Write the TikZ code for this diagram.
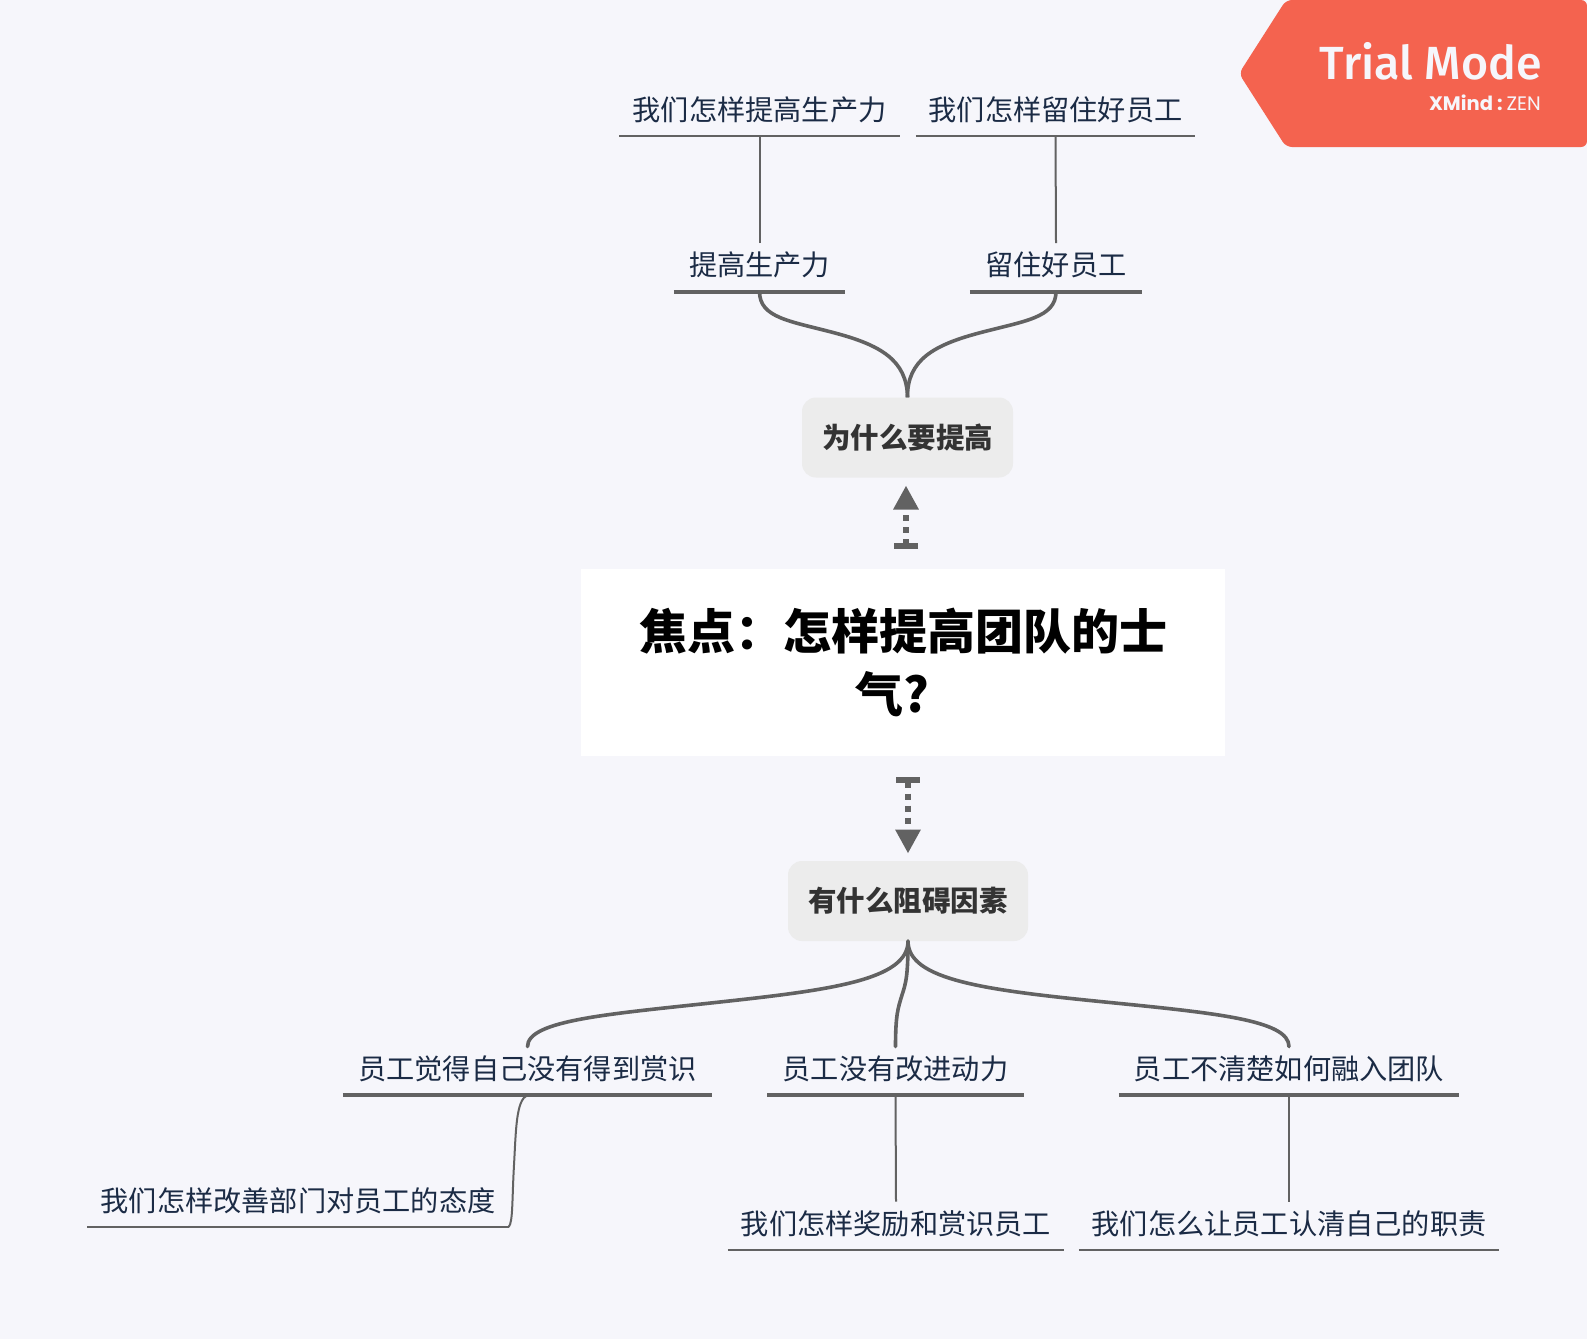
\documentclass[tikz,border=0pt]{standalone}
\usepackage{fontspec}
\usepackage{xcolor}
\usetikzlibrary{arrows.meta}
\setmainfont{Noto Sans CJK SC}
\newfontfamily\badgefont{Fira Sans}[BoldFont = {Fira Sans Medium}]
\newfontfamily\brandfont{Poppins}
\definecolor{bgcol}{HTML}{F6F6FB}
\definecolor{badgecol}{HTML}{F4634F}
\definecolor{boxcol}{HTML}{ECECEC}
\definecolor{linecol}{HTML}{626262}
\definecolor{textcol}{HTML}{1B2B45}
\tikzset{
	topicnode/.style = {inner sep = 0, text depth = 15.5pt, text height = 32.5pt, anchor = south, text = textcol, font = \fontsize{28.2pt}{30pt}\selectfont},
	boxnode/.style = {fill = boxcol, rounded corners = 14pt, minimum height = 80pt, inner sep = 0, text = black!80, font = \fontsize{28.5pt}{30pt}\selectfont\bfseries},
	thickline/.style = {draw = linecol, line width = 3.6pt},
	baseline/.style = {draw = linecol, line width = 4pt},
	thinline/.style = {draw = linecol, line width = 2pt},
	dottedarrow/.style = {draw = linecol, line width = 6pt, dash pattern = on 6pt off 6pt, {Bar[width = 24pt, length = 6pt]}-{Triangle[width = 24pt, length = 24pt]}}
}
\begin{document}
\begin{tikzpicture}[x = 1pt, y = -1pt]
	\fill [bgcol] (0,0) rectangle (1587,1339);
	\useasboundingbox (0,0) rectangle (1587,1339);
	\fill [badgecol, rounded corners = 6pt] (1286,0) -- (1239,73.5) -- (1286,147) -- (1587,147) -- (1587,0) -- cycle;
	\node (trial) at (1542,79) [anchor = base east, inner sep = 0, text = bgcol, font = \badgefont\bfseries\fontsize{46.5pt}{50pt}\selectfont] {Trial Mode};
	\node (zen) at (1541,110) [anchor = base east, inner sep = 0, text = bgcol, font = \brandfont\fontsize{19.5pt}{19.5pt}\selectfont] {\textbf{XMind}\hspace{4pt}\textbf{:}\hspace{4pt}ZEN};
	\node (focus) at (903,662.5) [fill = white, minimum width = 644pt, minimum height = 187pt, inner sep = 0, align = center, font = \fontsize{48pt}{63pt}\selectfont\bfseries] {焦点：怎样提高团队的士\\气?\hspace*{22pt}};
	\node (why) at (907.5,437.5) [boxnode, minimum width = 211pt] {为什么要提高};
	\node (what) at (908,901) [boxnode, minimum width = 240pt] {有什么阻碍因素};
	\node (prod) at (759.5,291.5) [topicnode, minimum width = 171pt] {提高生产力};
	\node (keep) at (1056,291.5) [topicnode, minimum width = 172pt] {留住好员工};
	\node (prodq) at (759.5,136) [topicnode, minimum width = 280pt] {我们怎样提高生产力};
	\node (keepq) at (1055.5,136) [topicnode, minimum width = 279pt] {我们怎样留住好员工};
	\node (noted) at (527.5,1095) [topicnode, minimum width = 369pt] {员工觉得自己没有得到赏识};
	\node (drive) at (895.5,1095) [topicnode, minimum width = 256pt] {员工没有改进动力};
	\node (fitin) at (1289,1095) [topicnode, minimum width = 340pt] {员工不清楚如何融入团队};
	\node (attq) at (298,1227) [topicnode, minimum width = 421pt] {我们怎样改善部门对员工的态度};
	\node (rewq) at (896,1250) [topicnode, minimum width = 336pt] {我们怎样奖励和赏识员工};
	\node (dutyq) at (1289,1250) [topicnode, minimum width = 420pt] {我们怎么让员工认清自己的职责};
	\coordinate (upfrom) at (906,549);
	\coordinate (upto) at (906,485.5);
	\coordinate (downfrom) at (908,777);
	\coordinate (downto) at (908,853.5);
	\draw [dottedarrow] (upfrom) -- (upto);
	\draw [dottedarrow] (downfrom) -- (downto);
	\draw [baseline] (prod.south west) -- (prod.south east);
	\draw [baseline] (keep.south west) -- (keep.south east);
	\draw [baseline] (noted.south west) -- (noted.south east);
	\draw [baseline] (drive.south west) -- (drive.south east);
	\draw [baseline] (fitin.south west) -- (fitin.south east);
	\draw [thinline] (prodq.south west) -- (prodq.south east);
	\draw [thinline] (keepq.south west) -- (keepq.south east);
	\draw [thinline] (attq.south west) -- (attq.south east);
	\draw [thinline] (rewq.south west) -- (rewq.south east);
	\draw [thinline] (dutyq.south west) -- (dutyq.south east);
	\draw [thinline] (prod.north) -- (prodq.south);
	\draw [thinline] (keep.north) -- (keepq.south);
	\draw [thinline] (drive.south) -- (rewq.north);
	\draw [thinline] (fitin.south) -- (dutyq.north);
	\draw [thinline] (noted.south) .. controls (516,1100) and (516,1130) .. (514,1165) .. controls (512,1200) and (513,1222) .. (attq.south east);
	\draw [thickline] (why.north) .. controls (907,360) and (880,345) .. (835,333) .. controls (790,321) and (759.5,318) .. (prod.south);
	\draw [thickline] (why.north) .. controls (907,360) and (934,345) .. (979,333) .. controls (1024,321) and (1056,318) .. (keep.south);
	\draw [thickline, line cap = round] (what.south) .. controls (908,980) and (830,990) .. (720,1002) .. controls (610,1014) and (527.5,1020) .. (noted.north);
	\draw [thickline, line cap = round] (what.south) .. controls (908,975) and (906,983) .. (902,995) .. controls (898,1008) and (895.5,1015) .. (drive.north);
	\draw [thickline, line cap = round] (what.south) .. controls (908,980) and (985,990) .. (1105,1002) .. controls (1215,1013) and (1289,1020) .. (fitin.north);
\end{tikzpicture}
\end{document}
